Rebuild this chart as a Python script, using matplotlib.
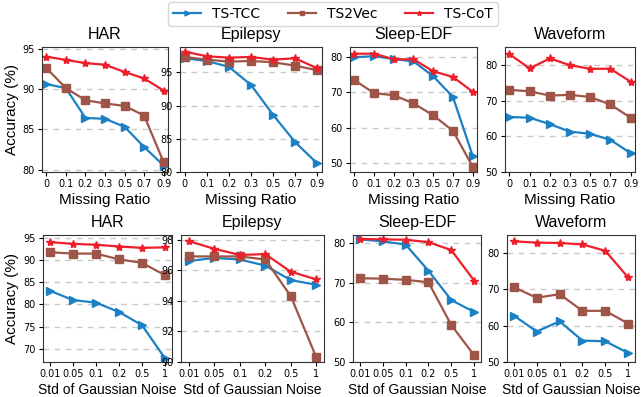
import matplotlib
matplotlib.use("Agg")
import matplotlib.pyplot as plt

# x categories
missing_ratio = ["0", "0.1", "0.2", "0.3", "0.5", "0.7", "0.9"]
noise_std = ["0.01", "0.05", "0.1", "0.2", "0.5", "1"]
datasets = ["HAR", "Epilepsy", "Sleep-EDF", "Waveform"]

# top row: accuracy vs missing ratio
miss_tstcc = [
    [90.6, 90.1, 86.4, 86.3, 85.3, 82.8, 80.5],
    [97.1, 96.7, 95.8, 93.1, 88.6, 84.5, 81.3],
    [80.0, 80.3, 79.5, 78.8, 74.6, 68.7, 52.0],
    [65.4, 65.2, 63.4, 61.3, 60.7, 59.0, 55.3],
]
miss_ts2vec = [
    [92.6, 90.1, 88.6, 88.2, 87.9, 86.7, 80.9],
    [97.3, 96.9, 96.6, 96.7, 96.5, 96.0, 95.3],
    [73.5, 69.8, 69.2, 66.9, 63.5, 59.1, 48.9],
    [73.0, 72.6, 71.4, 71.6, 71.0, 68.9, 65.2],
]
miss_tscot = [
    [94.0, 93.6, 93.2, 93.0, 92.1, 91.3, 89.8],
    [98.1, 97.4, 97.2, 97.3, 96.9, 97.1, 95.6],
    [81.0, 81.0, 79.4, 79.4, 76.0, 74.4, 70.2],
    [83.0, 79.0, 81.8, 79.9, 78.9, 78.9, 75.3],
]

# bottom row: accuracy vs gaussian noise std
noise_tstcc = [
    [83.1, 81.0, 80.4, 78.3, 75.3, 67.8],
    [96.6, 96.8, 96.7, 96.3, 95.35, 95.05],
    [80.9, 80.4, 79.6, 73.0, 65.6, 62.6],
    [62.8, 58.4, 61.2, 55.9, 55.7, 52.5],
]
noise_ts2vec = [
    [91.8, 91.5, 91.5, 90.2, 89.4, 86.6],
    [96.9, 96.9, 96.9, 96.7, 94.3, 90.3],
    [71.1, 71.0, 70.7, 70.1, 59.3, 51.7],
    [70.6, 67.7, 68.7, 64.1, 64.1, 60.6],
]
noise_tscot = [
    [94.1, 93.7, 93.5, 93.1, 92.8, 92.9],
    [97.9, 97.4, 97.0, 97.05, 95.9, 95.4],
    [81.0, 80.9, 80.8, 80.2, 78.2, 70.5],
    [83.25, 82.9, 82.8, 82.4, 80.65, 73.3],
]

top_yticks = [[80, 85, 90, 95], [80, 85, 90, 95], [50, 60, 70, 80], [50, 60, 70, 80]]
top_ylim = [(79.7, 95.2), (80.0, 98.8), (47.4, 82.9), (50.0, 85.0)]
bot_yticks = [[70, 75, 80, 85, 90, 95], [90, 92, 94, 96, 98], [50, 60, 70, 80], [50, 60, 70, 80]]
bot_ylim = [(67.0, 95.7), (90.0, 98.3), (50.0, 82.0), (50.0, 85.0)]

c_tcc = "#1b80c4"
c_vec = "#9e5548"
c_cot = "#ee1f2b"

fig = plt.figure(figsize=(6.42, 3.97), dpi=100)
W, H = 642.0, 397.0

top_x = [(42, 168), (180, 322), (350, 477), (505, 635)]
bot_x = [(43, 172), (181, 324), (353, 481), (507, 635)]
top_y = (47, 172)
bot_y = (235, 362)


def make_ax(xr, yr):
    return fig.add_axes([xr[0] / W, 1 - yr[1] / H, (xr[1] - xr[0]) / W, (yr[1] - yr[0]) / H])


def draw(ax, labels, tcc, vec, cot, yticks, ylim, title, xlabel, xsize, xpad):
    x = range(len(labels))
    ax.plot(x, tcc, color=c_tcc, marker=">", markersize=6, lw=1.6, label="TS-TCC")
    ax.plot(x, vec, color=c_vec, marker="s", markersize=6, lw=1.6, label="TS2Vec")
    ax.plot(x, cot, color=c_cot, marker="*", markersize=6, lw=1.6, label="TS-CoT")
    ax.set_xticks(list(x))
    ax.set_xticklabels(labels)
    ax.set_yticks(yticks)
    ax.set_ylim(*ylim)
    ax.set_xlim(-xpad, len(labels) - 1 + xpad)
    ax.yaxis.grid(True, linestyle=(0, (4, 4)), color="#c8c8c8", lw=1)
    ax.set_axisbelow(True)
    ax.tick_params(labelsize=7, length=3, pad=2)
    for s in ax.spines.values():
        s.set_color("#333333")
    ax.set_title(title, fontsize=11.5, family="Liberation Sans", pad=6)
    ax.set_xlabel(xlabel, fontsize=xsize, family="Liberation Sans", labelpad=3)


for i in range(4):
    ax = make_ax(top_x[i], top_y)
    draw(ax, missing_ratio, miss_tstcc[i], miss_ts2vec[i], miss_tscot[i],
         top_yticks[i], top_ylim[i], datasets[i], "Missing Ratio", 11, 0.22)
    if i == 0:
        ax.set_ylabel("Accuracy (%)", fontsize=11, family="Liberation Sans", labelpad=3)
        handles, lbls = ax.get_legend_handles_labels()

    ax = make_ax(bot_x[i], bot_y)
    draw(ax, noise_std, noise_tstcc[i], noise_ts2vec[i], noise_tscot[i],
         bot_yticks[i], bot_ylim[i], datasets[i], "Std of Gaussian Noise", 10, 0.3)
    if i == 0:
        ax.set_ylabel("Accuracy (%)", fontsize=11, family="Liberation Sans", labelpad=3)

fig.legend(handles, lbls, loc="upper center", bbox_to_anchor=(0.519, 1.012), ncol=3,
           fontsize=10, frameon=True, handlelength=2.0, columnspacing=2.0,
           borderpad=0.35, markerscale=0.6)

fig.savefig("out.png", dpi=100)
